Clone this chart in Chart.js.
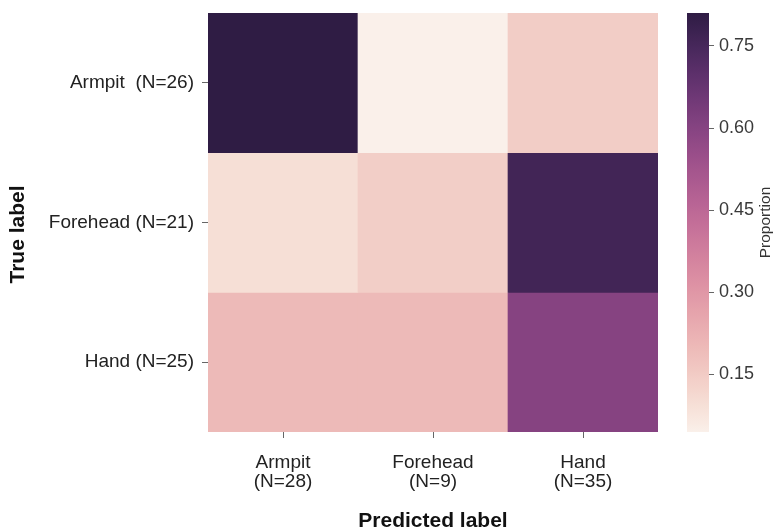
<!DOCTYPE html>
<html>
<head>
<meta charset="utf-8">
<script src="https://cdn.jsdelivr.net/npm/chart.js@4/dist/chart.umd.min.js"></script>
<style>
  html, body { margin: 0; padding: 0; background: #ffffff; }
  #wrap { position: relative; width: 776px; height: 528px; overflow: hidden; }
  canvas { position: absolute; top: 0; }
  #matrix { left: 0; }
  #colorbar { left: 660px; }
</style>
</head>
<body>
<div id="wrap">
  <canvas id="matrix" width="680" height="528"></canvas>
  <canvas id="colorbar" width="116" height="528"></canvas>
</div>
<script>
// Row (true) and column (predicted) labels
const TRUE_LABELS = ['Armpit  (N=26)', 'Forehead (N=21)', 'Hand (N=25)'];
const PREDICTED_LABELS = [['Armpit', '(N=28)'], ['Forehead', '(N=9)'], ['Hand', '(N=35)']];

// Row-normalised proportions, one array per true label (columns: Armpit, Forehead, Hand)
const ARMPIT_ROW   = [0.810, 0.045, 0.145];
const FOREHEAD_ROW = [0.095, 0.143, 0.762];
const HAND_ROW     = [0.200, 0.200, 0.600];
const ROWS = [ARMPIT_ROW, FOREHEAD_ROW, HAND_ROW];

// Colour bar ticks
const COLORBAR_TICKS = [0.15, 0.30, 0.45, 0.60, 0.75];

const ALL_VALUES = ROWS.flat();
const V_MIN = Math.min(...ALL_VALUES);
const V_MAX = Math.max(...ALL_VALUES);

// Cubehelix light-to-dark purple palette
const CH = { start: 0, rot: 0.4, gamma: 1, hue: 1, light: 0.95, dark: 0.15 };
function cubehelix(t) {
  t = Math.max(0, Math.min(1, t));
  const x = CH.light + (CH.dark - CH.light) * t;
  const xg = Math.pow(x, CH.gamma);
  const a = CH.hue * xg * (1 - xg) / 2;
  const phi = 2 * Math.PI * (CH.start / 3 + CH.rot * x);
  const c = Math.cos(phi), s = Math.sin(phi);
  const ch = (p0, p1) => Math.round(255 * Math.max(0, Math.min(1, xg + a * (p0 * c + p1 * s))));
  return `rgb(${ch(-0.14861, 1.78277)},${ch(-0.29227, -0.90649)},${ch(1.97294, 0)})`;
}
const colorFor = v => cubehelix((v - V_MIN) / (V_MAX - V_MIN));

Chart.defaults.font.family = "'Liberation Sans', Arial, sans-serif";
Chart.defaults.color = '#222222';
Chart.defaults.animation = false;

// Rotated axis caption drawn beside a vertical scale
const verticalTitle = {
  id: 'verticalTitle',
  afterDraw(chart, args, opts) {
    const s = chart.scales.y;
    const ctx = chart.ctx;
    ctx.save();
    ctx.translate(opts.x, (s.top + s.bottom) / 2 + (opts.dy || 0));
    ctx.rotate(-Math.PI / 2);
    ctx.font = opts.font;
    ctx.fillStyle = opts.color;
    ctx.textAlign = 'center';
    ctx.textBaseline = 'middle';
    ctx.fillText(opts.text, 0, 0);
    ctx.restore();
  }
};

// ---------- heatmap ----------
const datasets = ROWS.map((row, r) => ({
  label: TRUE_LABELS[r],
  data: row.map(() => [r, r + 1]),
  backgroundColor: row.map(colorFor),
  borderWidth: 0,
  barPercentage: 1,
  categoryPercentage: 1,
  grouped: false
}));

new Chart(document.getElementById('matrix'), {
  type: 'bar',
  data: { labels: PREDICTED_LABELS, datasets },
  options: {
    responsive: false,
    devicePixelRatio: 1,
    layout: { padding: { top: 13, right: 22, left: 0, bottom: 0 } },
    plugins: {
      legend: { display: false },
      tooltip: { enabled: false },
      verticalTitle: { text: 'True label', x: 18, dy: 12, font: "bold 21px 'Liberation Sans', Arial, sans-serif", color: '#111111' }
    },
    scales: {
      x: {
        type: 'category',
        offset: true,
        border: { display: false },
        grid: { offset: false, drawOnChartArea: false, drawTicks: true, tickLength: 6, color: '#666666', lineWidth: 1 },
        ticks: { font: { size: 19, lineHeight: 1.0 }, color: '#222222', padding: 15, maxRotation: 0 },
        title: { display: true, text: 'Predicted label', font: { size: 21, weight: 'bold', lineHeight: 0.6 }, color: '#111111', padding: { top: 0, bottom: 0 } },
        afterFit: s => { s.height = 96; s.paddingLeft = 0; s.paddingRight = 0; }
      },
      y: {
        type: 'linear',
        min: 0,
        max: ROWS.length,
        reverse: true,
        border: { display: false },
        grid: { drawOnChartArea: false, drawTicks: true, tickLength: 6, color: '#666666', lineWidth: 1 },
        afterBuildTicks: s => { s.ticks = TRUE_LABELS.map((_, i) => ({ value: i + 0.5 })); },
        ticks: { font: { size: 19 }, color: '#222222', padding: 8, callback: (v, i) => TRUE_LABELS[i] },
        afterFit: s => { s.width = 208; s.paddingTop = 0; s.paddingBottom = 0; }
      }
    }
  },
  plugins: [verticalTitle]
});

// ---------- colour bar ----------
new Chart(document.getElementById('colorbar'), {
  type: 'bar',
  data: {
    labels: [''],
    datasets: [{
      data: [[V_MIN, V_MAX]],
      borderWidth: 0,
      barPercentage: 1,
      categoryPercentage: 1,
      backgroundColor: ctx => {
        const area = ctx.chart.chartArea;
        if (!area) return colorFor(V_MAX);
        const g = ctx.chart.ctx.createLinearGradient(0, area.bottom, 0, area.top);
        const n = 48;
        for (let i = 0; i <= n; i++) g.addColorStop(i / n, cubehelix(i / n));
        return g;
      }
    }]
  },
  options: {
    responsive: false,
    devicePixelRatio: 1,
    layout: { padding: { top: 13, bottom: 96, left: 27, right: 0 } },
    plugins: {
      legend: { display: false },
      tooltip: { enabled: false },
      verticalTitle: { text: 'Proportion', x: 106, font: "15.5px 'Liberation Sans', Arial, sans-serif", color: '#333333' }
    },
    scales: {
      x: { display: false },
      y: {
        position: 'right',
        min: V_MIN,
        max: V_MAX,
        border: { display: false },
        grid: { drawOnChartArea: false, drawTicks: true, tickLength: 5, color: '#666666' },
        afterBuildTicks: s => { s.ticks = COLORBAR_TICKS.map(v => ({ value: v })); },
        ticks: { font: { size: 18 }, color: '#3a3a3a', padding: 5, callback: v => Number(v).toFixed(2) },
        afterFit: s => { s.width = 67; s.paddingTop = 0; s.paddingBottom = 0; }
      }
    }
  },
  plugins: [verticalTitle]
});
</script>
</body>
</html>
